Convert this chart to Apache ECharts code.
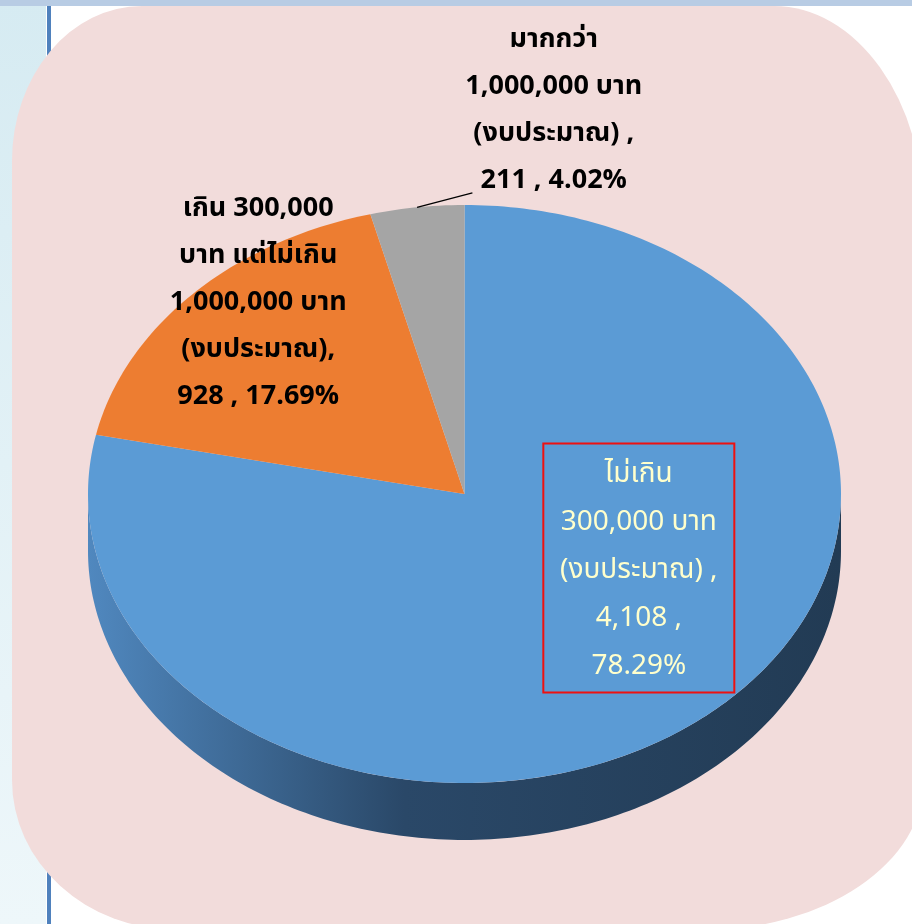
<!DOCTYPE html>
<html>
<head>
<meta charset="utf-8">
<script src="https://cdn.jsdelivr.net/npm/echarts@6/dist/echarts.min.js"></script>
<style>
html,body{margin:0;padding:0;width:912px;height:924px;overflow:hidden;background:#ffffff;}
#bgLeft{position:absolute;left:0;top:0;width:46px;height:924px;background:linear-gradient(#d6ebf2,#eef7fa);z-index:0;}
#bgLine{position:absolute;left:47px;top:0;width:4px;height:924px;background:#4f81bd;z-index:1;}
#pink{position:absolute;left:12px;top:6px;width:912px;height:924px;background:#f2dcdb;z-index:2;
  border-radius:130px 150px 220px 165px / 155px 210px 150px 150px;}
#bgTop{position:absolute;left:0;top:0;width:912px;height:6px;background:#b8cce4;z-index:3;}
#chart{position:absolute;left:0;top:0;width:912px;height:924px;z-index:4;}
</style>
</head>
<body>
<div id="bgLeft"></div>
<div id="bgLine"></div>
<div id="pink"></div>
<div id="bgTop"></div>
<div id="chart"></div>
<script>
// ---- data ----
const categories = [
  'ไม่เกิน\n300,000 บาท\n(งบประมาณ)',
  'เกิน 300,000\nบาท แต่ไม่เกิน\n1,000,000 บาท\n(งบประมาณ)',
  'มากกว่า\n1,000,000 บาท\n(งบประมาณ)'
];
const values = [4108, 928, 211];

// ---- styling / layout ----
const topColors = ['#5b9bd5', '#ed7d31', '#a5a5a5'];
const sideStops = [
  [{offset:0,color:'#5088bf'},{offset:0.42,color:'#2a4868'},{offset:1,color:'#223b54'}],
  [{offset:0,color:'#b85f22'},{offset:1,color:'#8a4615'}],
  [{offset:0,color:'#808080'},{offset:1,color:'#5a5a5a'}]
];
const DEPTH = 0.197; // extrusion, in y-axis units
const FONT = "Tahoma, 'Noto Sans Thai', 'Leelawadee UI', 'DejaVu Sans', sans-serif";
const labelLayout = [
  {at:[0.463,-0.270], sepName:' ,\n', sepVal:' ,\n', color:'#ffffcc', weight:'normal', size:28, lh:48, box:[191,249], boxColor:'#ee1111', boxAt:[0.463,-0.256]},
  {at:[-0.548,0.657], sepName:',\n', sepVal:' , ', color:'#000000', weight:'bold', size:27, lh:47},
  {at:[0.237,1.322], sepName:' ,\n', sepVal:' , ', color:'#000000', weight:'bold', size:27, lh:47, leaderEnd:[0.021,1.042]}
];

const total = values.reduce((a,b)=>a+b,0);
let acc = 0;
const seriesData = values.map((v,i)=>{
  const item = {name:categories[i], value:[acc, acc+v, v]};
  acc += v;
  return item;
});

function fmtLabel(i){
  const v = values[i];
  const pct = (v/total*100).toFixed(2) + '%';
  const L = labelLayout[i];
  return categories[i] + L.sepName + v.toLocaleString('en-US') + L.sepVal + pct;
}

function renderItem(params, api){
  const i = params.dataIndex;
  const a0 = api.value(0)/total*Math.PI*2;
  const a1 = api.value(1)/total*Math.PI*2;
  const pt = (a, d) => api.coord([Math.sin(a), Math.cos(a) - (d||0)]);
  const children = [];
  // side (front half only)
  const f0 = Math.max(a0, Math.PI/2), f1 = Math.min(a1, Math.PI*1.5);
  if (f1 > f0){
    const n = Math.max(2, Math.ceil((f1-f0)/(Math.PI*2)*360));
    const up = [], low = [];
    for (let k=0;k<=n;k++){
      const a = f0 + (f1-f0)*k/n;
      up.push(pt(a,0)); low.push(pt(a,DEPTH));
    }
    const xl = api.coord([-1,0])[0], xr = api.coord([1,0])[0];
    children.push({
      type:'polygon', z2:0,
      shape:{points: up.concat(low.reverse())},
      style:{fill:{type:'linear', x:xl, y:0, x2:xr, y2:0, global:true, colorStops:sideStops[i]}, stroke:null}
    });
  }
  // top face
  const n = Math.max(2, Math.ceil((a1-a0)/(Math.PI*2)*360));
  const pts = [api.coord([0,0])];
  for (let k=0;k<=n;k++) pts.push(pt(a0 + (a1-a0)*k/n, 0));
  children.push({type:'polygon', z2:10, shape:{points:pts}, style:{fill:topColors[i], stroke:null}});
  // label
  const L = labelLayout[i];
  const c = api.coord(L.at);
  if (L.box){
    const b = api.coord(L.boxAt);
    children.push({type:'rect', z2:90,
      shape:{x:b[0]-L.box[0]/2, y:b[1]-L.box[1]/2, width:L.box[0], height:L.box[1]},
      style:{fill:null, stroke:L.boxColor, lineWidth:2}});
  }
  if (L.leaderEnd){
    const am = (a0+a1)/2;
    const s = pt(am,0), e = api.coord(L.leaderEnd);
    children.push({type:'polyline', z2:90, shape:{points:[s,e]}, style:{stroke:'#000', lineWidth:1.3, fill:null}});
  }
  children.push({type:'text', z2:100,
    style:{text:fmtLabel(i), x:c[0], y:c[1], align:'center', verticalAlign:'middle',
      fill:L.color, fontSize:L.size, fontWeight:L.weight, fontFamily:FONT, lineHeight:L.lh}});
  return {type:'group', children};
}

const chart = echarts.init(document.getElementById('chart'), null, {renderer:'canvas'});
chart.setOption({
  animation:false,
  backgroundColor:'transparent',
  grid:{left:88, right:71, top:205, bottom:141},
  xAxis:{type:'value', min:-1, max:1, show:false},
  yAxis:{type:'value', min:-1, max:1, show:false},
  series:[{type:'custom', coordinateSystem:'cartesian2d', clip:false, silent:true,
    renderItem, data:seriesData}]
});
</script>
</body>
</html>
